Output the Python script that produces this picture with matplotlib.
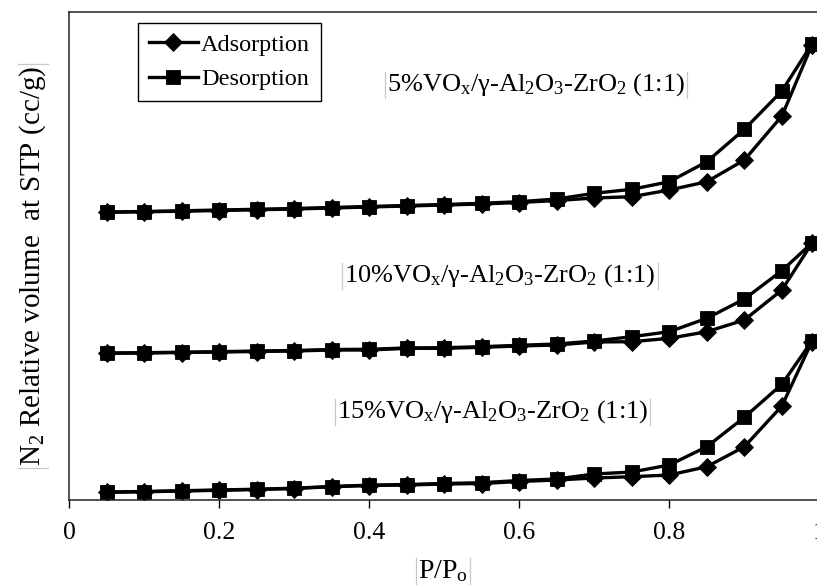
import matplotlib
matplotlib.use("Agg")
import matplotlib.pyplot as plt
from matplotlib.lines import Line2D
from matplotlib.transforms import IdentityTransform

plt.rcParams["font.family"] = ["Liberation Serif", "DejaVu Serif"]
plt.rcParams["mathtext.fontset"] = "custom"
plt.rcParams["mathtext.rm"] = "Liberation Serif"
plt.rcParams["mathtext.it"] = "Liberation Serif:italic"
plt.rcParams["mathtext.bf"] = "Liberation Serif:bold"

# Relative pressure P/Po
p_rel = [0.05, 0.10, 0.15, 0.20, 0.25, 0.30, 0.35, 0.40, 0.45, 0.50,
         0.55, 0.60, 0.65, 0.70, 0.75, 0.80, 0.85, 0.90, 0.95, 0.99]

# Relative N2 volume (arbitrary units, curves offset vertically)
ads_5 = [287.7, 288.2, 288.8, 289.5, 290.2, 291.0, 292.0, 293.0, 294.0, 295.0,
         296.0, 297.5, 299.5, 302.0, 303.3, 310.0, 318.3, 340.0, 384.0, 455.0]
des_5 = [288.0, 288.5, 289.2, 290.0, 290.7, 291.5, 292.5, 293.5, 294.5, 295.5,
         296.7, 298.3, 301.0, 306.7, 310.7, 318.3, 338.3, 370.7, 409.0, 456.0]

ads_10 = [146.7, 147.0, 147.5, 148.0, 148.5, 149.0, 150.0, 150.0, 151.7, 151.7,
          152.7, 154.0, 155.0, 158.0, 158.3, 161.7, 168.3, 180.0, 210.0, 256.7]
des_10 = [147.0, 147.3, 147.8, 148.3, 149.0, 149.5, 150.5, 150.7, 152.0, 152.3,
          153.3, 154.7, 156.0, 159.0, 163.3, 168.3, 181.7, 201.0, 229.3, 257.0]

ads_15 = [7.7, 8.2, 9.0, 9.7, 10.5, 11.5, 13.3, 14.5, 15.0, 16.0,
          16.5, 18.5, 20.0, 22.0, 23.3, 25.0, 33.3, 53.3, 94.0, 158.3]
des_15 = [8.0, 8.5, 9.3, 10.0, 10.8, 11.8, 13.5, 14.8, 15.5, 16.5,
          17.3, 19.5, 21.0, 26.0, 28.0, 35.0, 53.3, 82.7, 115.7, 159.0]

x_ticks = [0, 0.2, 0.4, 0.6, 0.8, 1.0]
x_ticklabels = ["0", "0.2", "0.4", "0.6", "0.8", "1"]

sample_labels = [
    r"5%VO$_{\mathrm{x}}$/γ-Al$_{\mathrm{2}}$O$_{\mathrm{3}}$-ZrO$_{\mathrm{2}}$ (1:1)",
    r"10%VO$_{\mathrm{x}}$/γ-Al$_{\mathrm{2}}$O$_{\mathrm{3}}$-ZrO$_{\mathrm{2}}$ (1:1)",
    r"15%VO$_{\mathrm{x}}$/γ-Al$_{\mathrm{2}}$O$_{\mathrm{3}}$-ZrO$_{\mathrm{2}}$ (1:1)",
]
# label anchor (x in P/Po, baseline in volume units)
label_pos = [(0.424, 409), (0.367, 218), (0.357, 82)]

W, H = 817, 586
fig = plt.figure(figsize=(W / 100, H / 100), dpi=100)
ax = fig.add_axes([69 / W, 86 / H, 750.4 / W, 488 / H])
ax.set_xlim(0, 1)
ax.set_ylim(0, 488)

line_kw = dict(color="black", lw=2.4, mec="black", mfc="black", mew=0.6)
handles = None
for ads, des in [(ads_5, des_5), (ads_10, des_10), (ads_15, des_15)]:
    h1, = ax.plot(p_rel, ads, marker="D", ms=8.8, **line_kw)
    h2, = ax.plot(p_rel, des, marker="s", ms=10.2, **line_kw)
    if handles is None:
        handles = [h1, h2]

ax.set_xticks(x_ticks)
ax.set_xticklabels(x_ticklabels)
ax.set_yticks([])
ax.tick_params(axis="x", direction="out", length=6, width=1, pad=10,
               labelsize=18.5, colors="black")
for side in ["left", "bottom", "top", "right"]:
    ax.spines[side].set_linewidth(1.1)
    ax.spines[side].set_color("#222222")

texts = []
for lab, (tx, ty) in zip(sample_labels, label_pos):
    texts.append(ax.text(tx, ty, lab, fontsize=19, ha="left", va="baseline"))

leg = ax.legend(handles, ["Adsorption", "Desorption"], loc="upper left",
                bbox_to_anchor=(138 / W, 1 - 23 / H), bbox_transform=fig.transFigure,
                borderaxespad=0, fancybox=False, framealpha=1, edgecolor="black",
                fontsize=17.5, handlelength=2.0, handletextpad=0.15,
                labelspacing=0.5, borderpad=0.45, numpoints=1)
leg.get_frame().set_linewidth(1.0)

xlab = fig.text(443 / W, 8 / H, r"P/P$_{\mathrm{o}}$", fontsize=20,
                ha="center", va="baseline")
ylab = fig.text(33 / W, 1 - 266 / H, r"N$_{\mathrm{2}}$ Relative volume  at STP (cc/g)",
                fontsize=21, rotation=90, ha="center", va="center")

# thin grey edge marks around the text boxes
fig.canvas.draw()
renderer = fig.canvas.get_renderer()
grey = dict(color="#c8c8c8", lw=0.9, transform=IdentityTransform())
for t in texts + [xlab]:
    bb = t.get_window_extent(renderer)
    for xe in (bb.x0 - 2, bb.x1 + 2):
        fig.add_artist(Line2D([xe, xe], [bb.y0, bb.y1], **grey))
bb = ylab.get_window_extent(renderer)
for ye in (bb.y0 - 2, bb.y1 + 2):
    fig.add_artist(Line2D([bb.x0, bb.x1], [ye, ye], **grey))

fig.savefig("out.png", dpi=100)
